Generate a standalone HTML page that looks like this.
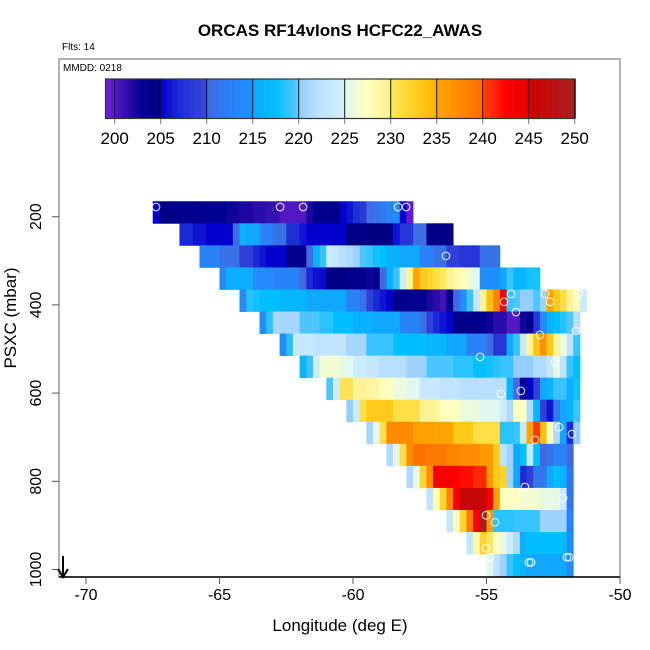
<!DOCTYPE html>
<html><head><meta charset="utf-8"><style>
html,body{margin:0;padding:0;background:#fff;}
svg{display:block;font-family:"Liberation Sans",sans-serif;}
</style></head><body>
<svg id="chart" width="650" height="650" viewBox="0 0 650 650" xmlns="http://www.w3.org/2000/svg">
<rect width="650" height="650" fill="#fff"/>
<text x="340" y="36" text-anchor="middle" font-size="17" font-weight="bold">ORCAS RF14vIonS HCFC22_AWAS</text>
<text x="62" y="50" font-size="10">Flts: 14</text>
<text x="63" y="71" font-size="10">MMDD: 0218</text>
<g id="cells" clip-path="url(#plotclip)"></g>
<g id="circles" clip-path="url(#plotclip)"></g>
<clipPath id="plotclip"><rect x="59" y="59" width="561" height="518"/></clipPath>
<rect x="59" y="59" width="561" height="518" fill="none" stroke="#888" stroke-width="1.3"/>
<line x1="59" y1="577" x2="620" y2="577" stroke="#000" stroke-width="1.5"/>
<g id="colorbar"></g>
<g id="xaxis"></g>
<g id="yaxis"></g>
<text x="340" y="631" text-anchor="middle" font-size="17">Longitude (deg E)</text>
<text transform="translate(16,318) rotate(-90)" text-anchor="middle" font-size="17">PSXC (mbar)</text>
<g stroke="#000" stroke-width="2" fill="none">
<line x1="63" y1="556" x2="63" y2="576"/><polyline points="58,569 63,577 68,569"/>
</g>
</svg>
<script>
const rowStartLon = [-67.5,-66.5,-65.75,-65,-64.25,-63.5,-62.75,-62,-61,-60.25,-59.5,-58.75,-58,-57.25,-56.5,-55.75,-55];
const row0 = [205,204.5,204,204,203.5,203.5,203,203,203,203,203,202.5,202.5,202,202,201.5,201.5,201,201,200,200,200,200,202,203.5,203.5,203.5,204.5,205,206,207.5,208.5,210,211,212,213,214.5,205,199.5];
const row1 = [207,207,206,206,205,205,205,205,210,216,215,215,213,213,211,211,207.5,207.5,206,205,205,205,205,205,205,204.5,204.5,204.5,204.5,204.5,204.5,204.5,206,208,208,210.5,210.5,204,204,204,204];
const row2 = [213,213,213,211,211,211,209,209,207,206,205,205,205,203.5,203.5,203.5,210,216,219,224,223,222,221.5,220.5,219.5,219,218,217.5,216,216,215,215,215,213,213,211,211,209,209,208,208,208,211,211,211];
const row3 = [214,215.5,215.5,215.5,215.5,214,214,214,213,213,213,213,210,207,206,205.5,204.5,204.5,204,204,203.5,203.5,202.5,203.5,210,215.5,219,224.5,229.5,235,233,232,231,230,229.5,228.5,228,226,225,214.5,214.5,214.5,215,219,216.5,216.5,218,218];
const row4 = [214,218.5,218,217.5,217.5,217.5,216.5,216.5,216.5,216.5,215,215,215,215,215,215,213,213,211,209,207,206,205,204,203.5,203.5,203,203,202,201.5,200.5,204,210,214.5,219,223,229.5,234,238,243,219,219.5,220,220,219.5,220.5,235,233,231,229.5,228,224];
const row5 = [214.5,218.5,221,221,221,221,219.5,219.5,219.5,218.5,218.5,217.5,217.5,217.5,216,216,216,215,215,215,215,213,213,213,211,209,207,206,205,204,204,204,203.5,203,202.5,201.5,201.5,200,200,202.5,203.5,208,214,216,217.5,218.5,219.5,222];
const row6 = [214.5,218.5,223.5,223.5,223.5,222.5,222.5,222.5,222.5,222.5,221,221,221,219,219,219,219,217.5,217.5,217.5,217.5,217.5,216.5,216.5,216.5,215,215,215,213,213,213,210,208,208,215,219,223.5,229.5,233.5,237,233,229.5,226,222.5,219];
const row7 = [216,219,224,226.5,226.5,226.5,225.5,225,224.5,224,223.5,223,222,222,222,222,220.5,220.5,220.5,219.5,219.5,219.5,219.5,218.5,218.5,218.5,217.5,217.5,218,218.5,219,219,220,220,220,221.5,221.5,223,225.5,222.5,219,217.5];
const row8 = [219.5,224,230.5,230.5,229.5,229.5,229,229,227.5,227.5,226,226,225,225,223.5,223.5,223.5,222.5,222.5,222.5,222,222,222,222,222,222,222,216.5,210,203.5,205,209,215,216.5,219,219,216,218];
const row9 = [220,224,231,233,233,233,233,231,231,231,231,229.5,229.5,229.5,227.5,227.5,227.5,226,226,226,225,225,225,224,221.5,227.5,227.5,221.5,216.5,209,206,211.5,215,216,219];
const row10 = [221,225,231,237.5,237.5,237.5,237.5,235.5,235.5,235.5,235,235,235,233,233,233,231,231,231,231,218.5,218.5,219,223.5,235,240.5,234,227.5,221.5,215,207,220];
const row11 = [221.5,225.5,231,237.5,239.5,239.5,239,239,239,238,238,237.5,237.5,237.5,236,236,233,222.5,220.5,215,217.5,223.5,217.5,210,211,213,213,210];
const row12 = [221.5,225.5,232,237.5,243.5,243.5,243.5,242.5,242,242,241,241,236,233,232,220.5,215,207,209,211.5,211.5,215,217.5,216,211.5];
const row13 = [222.5,228,232,238,243.5,246,246,246,246,243.5,235.5,227.5,227.5,227.5,226.5,226.5,226.5,225.5,225.5,225.5,224,211.5];
const row14 = [223,227.5,232,238.5,243.5,249.5,236,218.5,218.5,218.5,219,219,219,219,220.5,220.5,220.5,220.5,213];
const row15 = [223,228.5,232,230,227.5,225.5,224,221.5,216,217.5,217.5,217.5,217.5,217.5,217.5,214.5];
const row16 = [225,222.5,220.5,219,217.5,216,215,215,215,215,215,215,214.5];
const rows = [row0,row1,row2,row3,row4,row5,row6,row7,row8,row9,row10,row11,row12,row13,row14,row15,row16];
const rowPressure = [190,240,290,340,390,440,490,540,590,640,690,740,790,840,890,940,990];
const pointLon = [-67.38,-62.73,-61.87,-58.31,-58.01,-56.52,-54.08,-54.34,-52.81,-52.62,-51.54,-53.9,-51.65,-53.0,-55.24,-52.43,-54.46,-53.71,-52.28,-53.18,-51.8,-53.56,-52.13,-55.02,-54.68,-55.02,-54.87,-53.41,-53.33,-51.99,-51.9];
const pointP = [178,178,178,178,178,289,375,393,375,393,375,416,459,468,518,529,602,595,677,706,693,813,838,877,893,952,972,984,984,972,972];
const xTicks = [-70,-65,-60,-55,-50];
const yTicks = [200,400,600,800,1000];
const cbTicks = [200,205,210,215,220,225,230,235,240,245,250];

const NS = "http://www.w3.org/2000/svg";
const CELL = 0.25, DP = 50;
function xS(lon){ return 86 + (lon + 70) * 26.7; }
function yS(p){ return 216.7 + (p - 200) * 0.441; }
function cbX(v){ return 114.7 + (v - 200) * 9.2; }
const stops = [[199,[122,32,224]],[200,[80,24,192]],[201.5,[42,12,168]],[203,[0,0,144]],[204.99,[0,0,128]],[205,[0,0,205]],[207,[26,42,214]],[209.99,[58,74,216]],[210,[65,105,225]],[212.5,[42,128,245]],[214.99,[30,144,255]],[215,[16,168,255]],[217.5,[0,191,255]],[219.99,[96,200,255]],[220,[150,205,255]],[222.5,[192,228,255]],[224.99,[210,240,255]],[225,[224,248,240]],[227.5,[255,255,192]],[229.99,[255,240,140]],[230,[255,232,96]],[232.5,[255,208,32]],[234.99,[255,180,0]],[235,[255,165,0]],[237.5,[255,140,0]],[239.99,[255,106,0]],[240,[255,69,0]],[242.5,[255,0,0]],[244.99,[230,0,0]],[245,[208,0,0]],[250,[165,32,32]]];
function color(v){
  if(v<=stops[0][0]) return 'rgb('+stops[0][1]+')';
  for(let i=1;i<stops.length;i++){
    if(v<=stops[i][0]){
      const a=stops[i-1],b=stops[i],t=(v-a[0])/(b[0]-a[0]);
      const c=a[1].map((x,k)=>Math.round(x+(b[1][k]-x)*t));
      return 'rgb('+c.join(',')+')';
    }
  }
  return 'rgb('+stops[stops.length-1][1]+')';
}
function mk(tag,attrs,parent){ const e=document.createElementNS(NS,tag); for(const k in attrs) e.setAttribute(k,attrs[k]); parent.appendChild(e); return e; }

const gCells=document.getElementById('cells');
rows.forEach((vals,r)=>{
  const p=rowPressure[r];
  const y0=yS(p-DP/2), y1=yS(p+DP/2);
  vals.forEach((v,i)=>{
    const l0=rowStartLon[r]+i*CELL;
    const x0=xS(l0), x1=xS(l0+CELL);
    const el=mk('rect',{x:x0.toFixed(2),y:y0.toFixed(2),width:(x1-x0+0.4).toFixed(2),height:(y1-y0+0.4).toFixed(2),fill:color(v)},gCells);
    
    
  });
});
const gC=document.getElementById('circles');
pointLon.forEach((lon,i)=>{
  const c=mk('circle',{cx:xS(lon).toFixed(1),cy:yS(pointP[i]).toFixed(1),r:3.8,fill:'none',stroke:'#fff','stroke-width':1.1,'stroke-opacity':0.85},gC);
  
  
});
const gB=document.getElementById('colorbar');
for(let v=199;v<250;v+=0.1){
  mk('rect',{x:cbX(v).toFixed(2),y:79,width:(9.2*0.1+0.3).toFixed(2),height:39.5,fill:color(v+0.05)},gB);
}
mk('rect',{x:cbX(199),y:79,width:cbX(250)-cbX(199),height:39.5,fill:'none',stroke:'#333','stroke-width':1.2},gB);
cbTicks.forEach(t=>{
  const x=cbX(t);
  mk('line',{x1:x,y1:79,x2:x,y2:118.5,stroke:'#111','stroke-width':1},gB);
  mk('line',{x1:x,y1:118.5,x2:x,y2:124,stroke:'#777','stroke-width':1},gB);
  const tx=mk('text',{x:x,y:144,'text-anchor':'middle','font-size':17},gB);
  tx.textContent=t;
  
  
});
const gX=document.getElementById('xaxis');
xTicks.forEach(t=>{
  const x=xS(t);
  mk('line',{x1:x,y1:577,x2:x,y2:584,stroke:'#555','stroke-width':1},gX);
  const tx=mk('text',{x:x,y:600,'text-anchor':'middle','font-size':16},gX);
  tx.textContent=t;
  
  
});
const gY=document.getElementById('yaxis');
yTicks.forEach(t=>{
  const y=yS(t);
  mk('line',{x1:52,y1:y,x2:59,y2:y,stroke:'#555','stroke-width':1},gY);
  const tx=mk('text',{transform:'translate(41,'+y.toFixed(1)+') rotate(-90)','text-anchor':'middle','font-size':16},gY);
  tx.textContent=t;
  
  
});
</script>
</body></html>
